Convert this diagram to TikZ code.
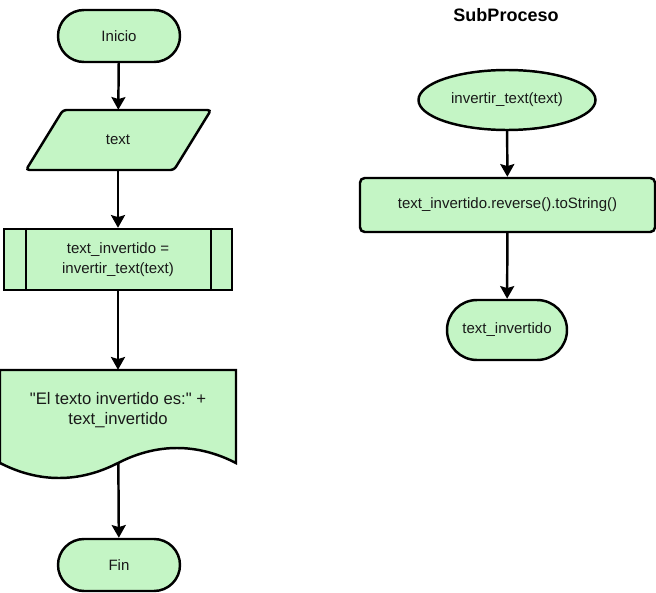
\documentclass[tikz,border=0pt]{standalone}
\usepackage{fontspec}
\setmainfont{Liberation Sans}[Ligatures=TeXOff]
\usetikzlibrary{arrows.meta,shapes.geometric,backgrounds}
\definecolor{fillg}{RGB}{196,245,197}
\begin{document}
\begin{tikzpicture}[x=0.75pt,y=-0.75pt,
  lw/.style={line width=1.85pt},
  shp/.style={lw,draw=black,fill=fillg},
  txt/.style={font=\fontsize{11.25}{15}\selectfont,align=center,inner sep=0pt,text=black!90},
  box/.style={shp,txt},
  term/.style={box,rounded corners=19.5pt,minimum width=91.5pt,minimum height=39pt},
  arr/.style={lw,-{Stealth[length=9.5pt,width=10.5pt,inset=1.5pt]}}]
\useasboundingbox (0,0) rectangle (656,592);

% ---- main flow ----
\node[term] (inicio) at (119,36) {Inicio};

\node[txt,minimum width=110pt,minimum height=45pt] (txtin) at (118,140) {};
\draw[shp,rounded corners=2.5pt] (63,110) -- (211,110) -- (174,170) -- (26,170) -- cycle;
\node[txt] at (txtin) {text};

\node[box,minimum width=171pt,minimum height=45.75pt] (pp) at (118,259.5) {text\_invertido =\\invertir\_text(text)};
\draw[lw] ([xshift=17.25pt]pp.north west) -- ([xshift=17.25pt]pp.south west);
\draw[lw] ([xshift=-16.5pt]pp.north east) -- ([xshift=-16.5pt]pp.south east);

\node[txt,minimum width=177pt,minimum height=60pt] (doc) at (118,410) {};
\draw[shp] (0,370) -- (236,370) -- (236,463)
  .. controls (197,443) and (157,443) .. (118,463)
  .. controls (79,483) and (39,483) .. (0,463) -- cycle;
\node[txt,font=\fontsize{12.5}{15}\selectfont] at (doc) {"El texto invertido es:" +\\text\_invertido};

\node[term] (fin) at (119,565) {Fin};

% ---- subprocess ----
\node[font=\fontsize{13.5}{16}\selectfont\bfseries,inner sep=0pt] (title) at (506,15) {SubProceso};
\node[box,ellipse,minimum width=132.75pt,minimum height=45pt] (sub) at (507,100) {invertir\_text(text)};
\node[box,rounded corners=3.5pt,minimum width=221.25pt,minimum height=40.5pt] (rev) at (507.5,205) {text\_invertido.reverse().toString()};
\node[box,rounded corners=22.5pt,minimum width=90pt,minimum height=45pt] (ret) at (507,330) {text\_invertido};

% ---- connectors ----
\begin{scope}[on background layer]
\draw[arr] (inicio) -- (txtin);
\draw[arr] (txtin) -- (pp);
\draw[arr] (pp) -- (doc);
\draw[arr] (doc) -- (fin);
\draw[arr] (sub) -- (rev);
\draw[arr] (rev) -- (ret);
\end{scope}
\end{tikzpicture}
\end{document}
